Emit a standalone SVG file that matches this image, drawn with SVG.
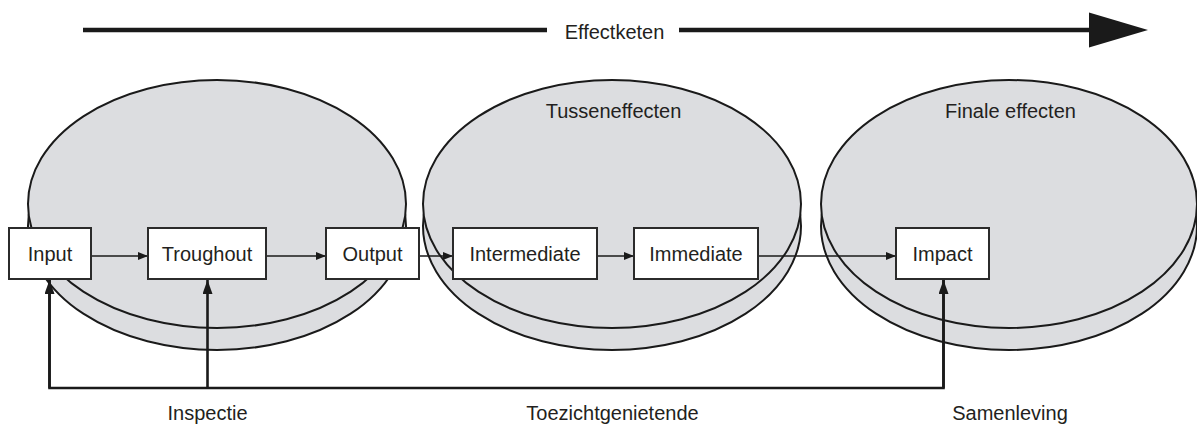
<svg xmlns="http://www.w3.org/2000/svg" width="1197" height="425" viewBox="0 0 1197 425">
  <defs>
    <style>
      .disc { fill: #dcdde0; stroke: #1a1a1a; stroke-width: 2; }
      .box { fill: #ffffff; stroke: #2b2b2b; stroke-width: 2; }
      .lbl { font-family: "Liberation Sans", Arial, sans-serif; font-size: 20px; fill: #231f20; text-anchor: middle; }
      .flow { stroke: #1a1a1a; stroke-width: 1.3; fill: none; marker-end: url(#small); }
      .feed { stroke: #1a1a1a; stroke-width: 2.6; fill: none; }
      .feedarrow { stroke: #1a1a1a; stroke-width: 2.6; fill: none; marker-end: url(#big); }
    </style>
    <marker id="small" viewBox="0 0 10 8" refX="10" refY="4" markerWidth="10" markerHeight="8" markerUnits="userSpaceOnUse" orient="auto">
      <path d="M0,0 L10,4 L0,8 Z" fill="#1a1a1a"/>
    </marker>
    <marker id="big" viewBox="0 0 14 10" refX="14" refY="5" markerWidth="14" markerHeight="10" markerUnits="userSpaceOnUse" orient="auto">
      <path d="M0,0 L14,5 L0,10 Z" fill="#1a1a1a"/>
    </marker>
  </defs>

  <rect width="1197" height="425" fill="#ffffff"/>

  <!-- Effectketen arrow -->
  <g id="effectketen">
    <line x1="83" y1="30" x2="547" y2="30" stroke="#1a1a1a" stroke-width="4.5"/>
    <line x1="679" y1="30" x2="1092" y2="30" stroke="#1a1a1a" stroke-width="4.5"/>
    <path d="M1089,12.5 L1148,30 L1089,47.5 Z" fill="#1a1a1a"/>
    <text class="lbl" x="614.5" y="39">Effectketen</text>
  </g>

  <!-- Discs -->
  <g id="disc-1">
    <ellipse class="disc" cx="217" cy="226" rx="189" ry="124"/>
    <ellipse class="disc" cx="217" cy="204" rx="189" ry="124"/>
  </g>
  <g id="disc-tusseneffecten">
    <ellipse class="disc" cx="612" cy="226" rx="189" ry="124"/>
    <ellipse class="disc" cx="612" cy="204" rx="189" ry="124"/>
    <text class="lbl" x="613.5" y="118">Tusseneffecten</text>
  </g>
  <g id="disc-finale">
    <ellipse class="disc" cx="1009" cy="226" rx="188" ry="124"/>
    <ellipse class="disc" cx="1009" cy="204" rx="188" ry="124"/>
    <text class="lbl" x="1010.5" y="118">Finale effecten</text>
  </g>

  <!-- Connectors -->
  <g id="connectors">
    <line class="flow" x1="91" y1="256" x2="148" y2="256"/>
    <line class="flow" x1="266" y1="256" x2="326" y2="256"/>
    <line class="flow" x1="419" y1="256" x2="453" y2="256"/>
    <line class="flow" x1="597" y1="256" x2="634" y2="256"/>
    <line class="flow" x1="758" y1="256" x2="896" y2="256"/>
    <polyline class="feed" points="49.5,280 49.5,388 943.5,388 943.5,280"/>
    <line class="feedarrow" x1="49.5" y1="388" x2="49.5" y2="280"/>
    <line class="feedarrow" x1="207.5" y1="388" x2="207.5" y2="280"/>
    <line class="feedarrow" x1="943.5" y1="388" x2="943.5" y2="280"/>
  </g>

  <!-- Nodes -->
  <g id="node-input">
    <rect class="box" x="9" y="228" width="82" height="51"/>
    <text class="lbl" x="50" y="261">Input</text>
  </g>
  <g id="node-troughout">
    <rect class="box" x="148" y="228" width="118" height="51"/>
    <text class="lbl" x="207" y="261">Troughout</text>
  </g>
  <g id="node-output">
    <rect class="box" x="326" y="228" width="93" height="51"/>
    <text class="lbl" x="372.5" y="261">Output</text>
  </g>
  <g id="node-intermediate">
    <rect class="box" x="453" y="228" width="144" height="51"/>
    <text class="lbl" x="525" y="261">Intermediate</text>
  </g>
  <g id="node-immediate">
    <rect class="box" x="634" y="228" width="124" height="51"/>
    <text class="lbl" x="696" y="261">Immediate</text>
  </g>
  <g id="node-impact">
    <rect class="box" x="896" y="228" width="93" height="51"/>
    <text class="lbl" x="942.5" y="261">Impact</text>
  </g>

  <!-- Bottom labels -->
  <g id="labels">
    <text class="lbl" x="207.5" y="420">Inspectie</text>
    <text class="lbl" x="612.5" y="420">Toezichtgenietende</text>
    <text class="lbl" x="1010" y="420">Samenleving</text>
  </g>
</svg>
